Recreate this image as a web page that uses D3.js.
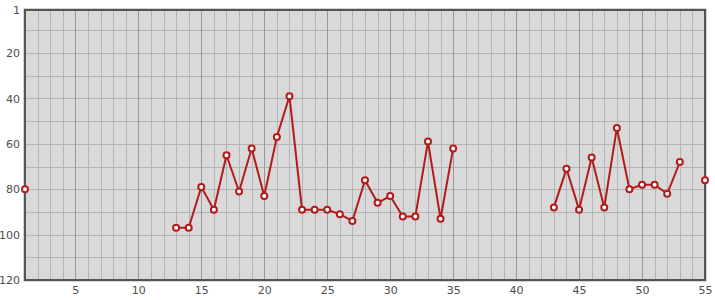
<!DOCTYPE html>
<html>
<head>
<meta charset="utf-8">
<script src="https://cdn.jsdelivr.net/npm/d3@7"></script>
<style>
  body { margin: 0; background: #fff; }
  .tick text { font-family: "DejaVu Sans", sans-serif; font-size: 11px; fill: #4d4d4d; }
</style>
</head>
<body>
<div id="chart"></div>
<script>
// Chart data (x = position, y = rank; null = no value)
var xValues = d3.range(1, 56);
var yValues = [
  80, null, null, null, null, null, null, null, null, null,
  null, null, 97, 97, 79, 89, 65, 81, 62, 83,
  57, 39, 89, 89, 89, 91, 94, 76, 86, 83,
  92, 92, 59, 93, 62, null, null, null, null, null,
  null, null, 88, 71, 89, 66, 88, 53, 80, 78,
  78, 82, 68, null, 76
];
var xTicks = [5, 10, 15, 20, 25, 30, 35, 40, 45, 50, 55];
var yTicks = [1, 20, 40, 60, 80, 100, 120];

var svgWidth = 715;
var svgHeight = 300;
var margin = { top: 10, right: 10, bottom: 20, left: 25 };
var chartWidth = svgWidth - margin.left - margin.right;
var chartHeight = svgHeight - margin.top - margin.bottom;

var data = xValues.map(function(x, i) { return { x: x, y: yValues[i] }; });

var svg = d3.select("#chart")
  .append("svg")
  .attr("width", svgWidth)
  .attr("height", svgHeight);

var chartGroup = svg.append("g")
  .attr("transform", `translate(${margin.left}, ${margin.top})`);

var xScale = d3.scaleLinear().domain([1, 55]).range([0, chartWidth]);
var yScale = d3.scaleLinear().domain([1, 120]).range([0, chartHeight]);

// background
chartGroup.append("rect")
  .attr("width", chartWidth)
  .attr("height", chartHeight)
  .attr("fill", "#d9d9d9");

// horizontal grid every 10
chartGroup.append("g")
  .selectAll("line")
  .data(d3.range(10, 120, 10))
  .enter().append("line")
    .attr("x1", 0)
    .attr("x2", chartWidth)
    .attr("y1", d => Math.round(yScale(d)) + 0.5)
    .attr("y2", d => Math.round(yScale(d)) + 0.5)
    .attr("stroke", "#b4b4b4");

// vertical grid every 1, darker every 5
chartGroup.append("g")
  .selectAll("line")
  .data(d3.range(2, 55))
  .enter().append("line")
    .attr("x1", d => Math.round(xScale(d)) + 0.5)
    .attr("x2", d => Math.round(xScale(d)) + 0.5)
    .attr("y1", 0)
    .attr("y2", chartHeight)
    .attr("stroke", d => d % 5 === 0 ? "#999" : "#b4b4b4");

// frame
chartGroup.append("rect")
  .attr("x", -1)
  .attr("y", -1)
  .attr("width", chartWidth + 2)
  .attr("height", chartHeight + 2)
  .attr("fill", "none")
  .attr("stroke", "#aaa")
  .attr("stroke-width", 1);
chartGroup.append("rect")
  .attr("width", chartWidth)
  .attr("height", chartHeight)
  .attr("fill", "none")
  .attr("stroke", "#555")
  .attr("stroke-width", 2);

// axes
var bottomAxis = d3.axisBottom(xScale).tickValues(xTicks).tickSize(0).tickPadding(6);
var leftAxis = d3.axisLeft(yScale).tickValues(yTicks).tickSize(0).tickPadding(5);

chartGroup.append("g")
  .attr("transform", `translate(0, ${chartHeight})`)
  .call(bottomAxis)
  .call(g => g.select(".domain").remove());

chartGroup.append("g")
  .call(leftAxis)
  .call(g => g.select(".domain").remove());

// line with gaps
var line = d3.line()
  .defined(d => d.y !== null)
  .x(d => xScale(d.x))
  .y(d => yScale(d.y));

chartGroup.append("path")
  .datum(data)
  .attr("d", line)
  .attr("fill", "none")
  .attr("stroke", "#b31b1b")
  .attr("stroke-width", 2);

// markers
chartGroup.selectAll("circle")
  .data(data.filter(d => d.y !== null))
  .enter().append("circle")
    .attr("cx", d => xScale(d.x))
    .attr("cy", d => yScale(d.y))
    .attr("r", 3)
    .attr("fill", "#fff")
    .attr("stroke", "#b31b1b")
    .attr("stroke-width", 2);
</script>
</body>
</html>
